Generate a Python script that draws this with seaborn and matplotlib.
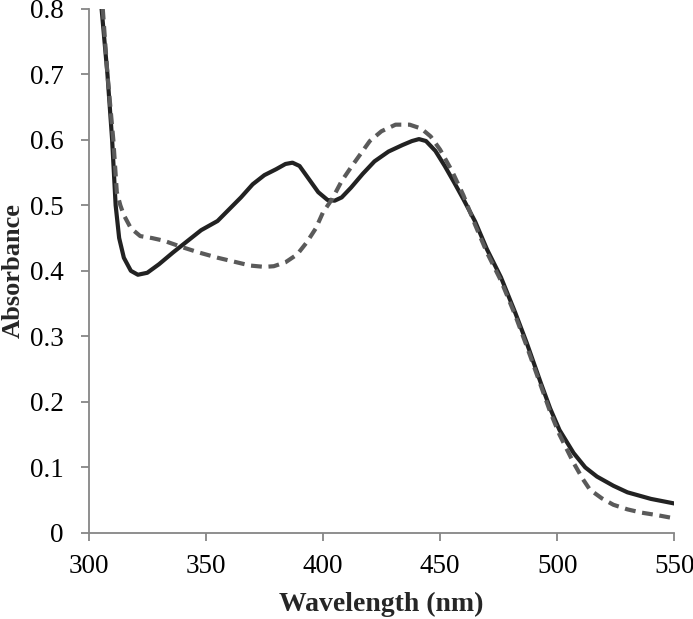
import pandas as pd
import matplotlib
matplotlib.use('Agg')
import matplotlib.pyplot as plt
import seaborn as sns

sns.set_style('white')
plt.rcParams['font.family'] = ['Liberation Serif', 'DejaVu Serif']

# solid spectrum
wl_a = [305.5, 308, 310, 311.5, 313, 315, 318, 321, 325, 330, 336, 342, 348,
        355, 360, 365, 370, 375, 380, 384, 387, 390, 394, 398, 402, 405, 408,
        412, 417, 422, 428, 434, 438, 441, 444, 448, 452, 456, 460, 465, 470,
        476, 482, 487, 493, 497, 501, 507, 512, 517, 524, 530, 540, 550]
abs_a = [0.80, 0.70, 0.60, 0.50, 0.45, 0.42, 0.40, 0.394, 0.397, 0.41, 0.428,
         0.445, 0.462, 0.476, 0.494, 0.512, 0.532, 0.546, 0.555, 0.563, 0.565,
         0.56, 0.54, 0.52, 0.508, 0.507, 0.512, 0.527, 0.548, 0.567, 0.582,
         0.592, 0.598, 0.601, 0.598, 0.583, 0.56, 0.535, 0.509, 0.475, 0.433,
         0.39, 0.337, 0.29, 0.229, 0.19, 0.157, 0.122, 0.100, 0.086, 0.072,
         0.062, 0.052, 0.045]

# dashed spectrum
wl_b = [306, 308, 310.5, 312, 313.5, 315, 318, 322, 327, 332, 340, 347, 355,
        362, 369, 375, 379, 384, 389, 393, 397, 400, 404, 408, 412, 416, 420,
        425, 431, 437, 442, 446, 450, 455, 460, 465, 470, 476, 482, 487, 493,
        497, 501, 507, 511, 514, 519, 524, 530, 536, 543, 549]
abs_b = [0.80, 0.70, 0.60, 0.52, 0.50, 0.485, 0.465, 0.453, 0.450, 0.446,
         0.436, 0.428, 0.420, 0.414, 0.408, 0.406, 0.407, 0.413, 0.425, 0.443,
         0.465, 0.489, 0.510, 0.537, 0.558, 0.578, 0.598, 0.613, 0.623, 0.623,
         0.617, 0.605, 0.585, 0.553, 0.515, 0.47, 0.428, 0.385, 0.333, 0.285,
         0.225, 0.185, 0.150, 0.107, 0.082, 0.066, 0.053, 0.043, 0.036, 0.031,
         0.027, 0.023]

xticks = [300, 350, 400, 450, 500, 550]
yticks = [0, 0.1, 0.2, 0.3, 0.4, 0.5, 0.6, 0.7, 0.8]
ytick_labels = ['0', '0.1', '0.2', '0.3', '0.4', '0.5', '0.6', '0.7', '0.8']

df_a = pd.DataFrame({'wl': wl_a, 'abs': abs_a})
df_b = pd.DataFrame({'wl': wl_b, 'abs': abs_b})

fig = plt.figure(figsize=(6.93, 6.19), dpi=100)
ax = fig.add_axes([0.128, 0.139, 0.845, 0.847])

sns.lineplot(data=df_a, x='wl', y='abs', ax=ax, color='#222222', lw=3.0,
             sort=False, estimator=None)
sns.lineplot(data=df_b, x='wl', y='abs', ax=ax, color='#5a5a5a', lw=3.0,
             sort=False, estimator=None, dashes=False)
ax.lines[1].set_dashes([2.6, 1.6])

ax.set_xlim(300, 550)
ax.set_ylim(0, 0.8)
ax.set_xticks(xticks)
ax.set_xticklabels([str(t) for t in xticks])
ax.set_yticks(yticks)
ax.set_yticklabels(ytick_labels)

for s in ['top', 'right']:
    ax.spines[s].set_visible(False)
for s in ['left', 'bottom']:
    ax.spines[s].set_color('#868686')
    ax.spines[s].set_linewidth(1.3)
ax.tick_params(axis='both', direction='out', length=6, width=1.3,
               color='#868686', labelsize=19.5, labelcolor='black')
ax.tick_params(axis='x', pad=9, bottom=True)
ax.tick_params(axis='y', pad=12, left=True)

ax.set_xlabel('Wavelength (nm)', fontsize=20, fontweight='bold',
              va='center', ha='center')
ax.set_ylabel('Absorbance', fontsize=19, fontweight='bold',
              va='center', ha='center')
ax.xaxis.set_label_coords(0.5, -0.136)
ax.yaxis.set_label_coords(-0.129, 0.5)

fig.savefig('out.png', dpi=100)
